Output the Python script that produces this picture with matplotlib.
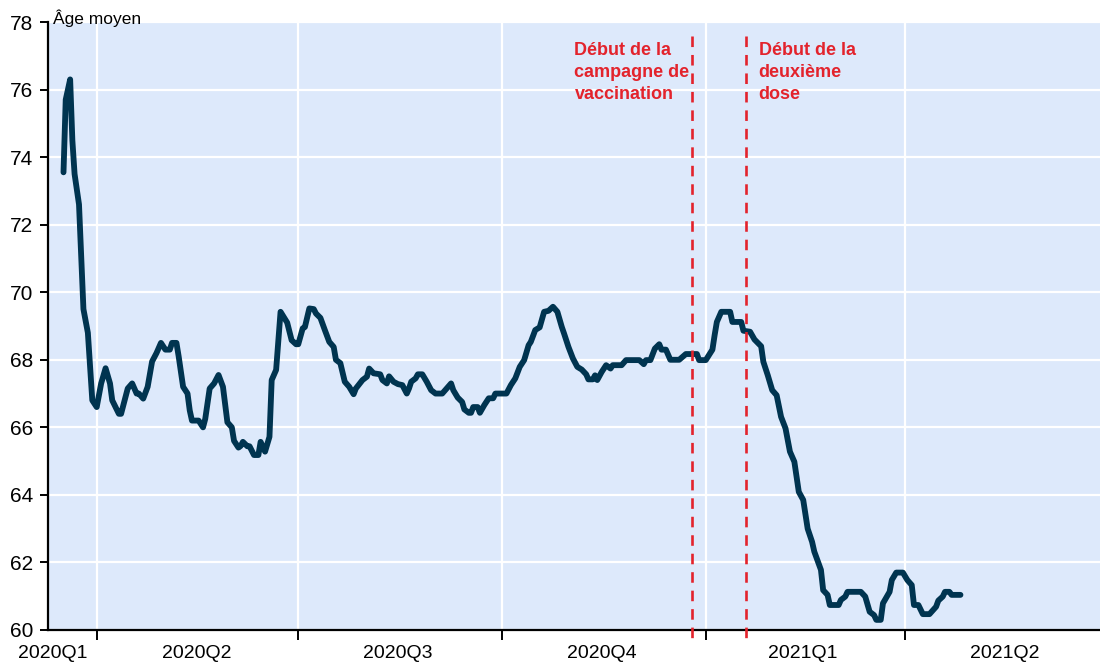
import matplotlib
matplotlib.use("Agg")
import matplotlib.pyplot as plt
import matplotlib.dates as mdates
import pandas as pd

# Âge moyen (moyenne mobile)
dates = [
    "2020-03-17", "2020-03-18", "2020-03-20", "2020-03-21", "2020-03-22", "2020-03-24",
    "2020-03-26", "2020-03-28", "2020-03-30", "2020-04-01", "2020-04-03", "2020-04-05",
    "2020-04-07", "2020-04-08", "2020-04-11", "2020-04-12", "2020-04-15", "2020-04-17",
    "2020-04-19", "2020-04-20", "2020-04-22", "2020-04-24", "2020-04-26", "2020-04-28",
    "2020-04-30", "2020-05-02", "2020-05-04", "2020-05-05", "2020-05-07", "2020-05-08",
    "2020-05-10", "2020-05-12", "2020-05-13", "2020-05-14", "2020-05-17", "2020-05-19",
    "2020-05-20", "2020-05-22", "2020-05-24", "2020-05-26", "2020-05-28", "2020-05-30",
    "2020-06-01", "2020-06-02", "2020-06-04", "2020-06-05", "2020-06-06", "2020-06-08",
    "2020-06-09", "2020-06-11", "2020-06-13", "2020-06-14", "2020-06-16", "2020-06-18",
    "2020-06-19", "2020-06-21", "2020-06-23", "2020-06-26", "2020-06-28", "2020-06-30",
    "2020-07-01", "2020-07-03", "2020-07-04", "2020-07-06", "2020-07-08", "2020-07-09",
    "2020-07-11", "2020-07-13", "2020-07-15", "2020-07-17", "2020-07-18", "2020-07-20",
    "2020-07-22", "2020-07-24", "2020-07-26", "2020-07-27", "2020-07-30", "2020-08-01",
    "2020-08-02", "2020-08-04", "2020-08-07", "2020-08-08", "2020-08-10", "2020-08-11",
    "2020-08-13", "2020-08-15", "2020-08-17", "2020-08-19", "2020-08-20", "2020-08-21",
    "2020-08-23", "2020-08-24", "2020-08-26", "2020-08-28", "2020-08-30", "2020-09-01",
    "2020-09-04", "2020-09-06", "2020-09-08", "2020-09-09", "2020-09-11", "2020-09-13",
    "2020-09-14", "2020-09-16", "2020-09-17", "2020-09-18", "2020-09-20", "2020-09-21",
    "2020-09-23", "2020-09-25", "2020-09-27", "2020-09-28", "2020-10-03", "2020-10-05",
    "2020-10-07", "2020-10-09", "2020-10-11", "2020-10-13", "2020-10-14", "2020-10-16",
    "2020-10-18", "2020-10-20", "2020-10-22", "2020-10-24", "2020-10-26", "2020-10-28",
    "2020-10-29", "2020-10-31", "2020-11-02", "2020-11-04", "2020-11-06", "2020-11-08",
    "2020-11-09", "2020-11-11", "2020-11-12", "2020-11-13", "2020-11-15", "2020-11-17",
    "2020-11-19", "2020-11-20", "2020-11-24", "2020-11-26", "2020-12-02", "2020-12-04",
    "2020-12-05", "2020-12-07", "2020-12-09", "2020-12-11", "2020-12-12", "2020-12-14",
    "2020-12-16", "2020-12-20", "2020-12-23", "2020-12-28", "2020-12-29", "2021-01-01",
    "2021-01-04", "2021-01-05", "2021-01-06", "2021-01-08", "2021-01-12", "2021-01-13",
    "2021-01-17", "2021-01-18", "2021-01-21", "2021-01-23", "2021-01-26", "2021-01-27",
    "2021-01-29", "2021-01-31", "2021-02-02", "2021-02-04", "2021-02-06", "2021-02-08",
    "2021-02-10", "2021-02-12", "2021-02-14", "2021-02-16", "2021-02-18", "2021-02-19",
    "2021-02-22", "2021-02-23", "2021-02-25", "2021-02-26", "2021-03-02", "2021-03-03",
    "2021-03-05", "2021-03-06", "2021-03-12", "2021-03-14", "2021-03-16", "2021-03-18",
    "2021-03-19", "2021-03-21", "2021-03-22", "2021-03-25", "2021-03-26", "2021-03-28",
    "2021-03-31", "2021-04-02", "2021-04-04", "2021-04-05", "2021-04-07", "2021-04-09",
    "2021-04-12", "2021-04-15", "2021-04-16", "2021-04-18", "2021-04-19", "2021-04-21",
    "2021-04-22", "2021-04-26",
]
age = [
    73.55, 75.7, 76.3, 74.5, 73.5, 72.6,
    69.5, 68.8, 66.8, 66.6, 67.3, 67.75,
    67.3, 66.8, 66.4, 66.4, 67.15, 67.3,
    67.0, 67.0, 66.85, 67.2, 67.95, 68.2,
    68.5, 68.3, 68.3, 68.5, 68.5, 68.1,
    67.2, 67.0, 66.5, 66.2, 66.2, 66.0,
    66.25, 67.15, 67.3, 67.55, 67.2, 66.15,
    66.0, 65.6, 65.4, 65.45, 65.57, 65.44,
    65.44, 65.18, 65.18, 65.57, 65.28, 65.72,
    67.4, 67.7, 69.42, 69.1, 68.58, 68.46,
    68.46, 68.93, 68.97, 69.52, 69.5, 69.37,
    69.24, 68.88, 68.53, 68.38, 68.0, 67.9,
    67.35, 67.2, 66.98, 67.15, 67.4, 67.5,
    67.74, 67.6, 67.57, 67.4, 67.3, 67.51,
    67.35, 67.28, 67.25, 67.0, 67.15, 67.35,
    67.45, 67.57, 67.57, 67.35, 67.1, 67.0,
    67.0, 67.15, 67.3, 67.1, 66.88, 66.75,
    66.53, 66.43, 66.43, 66.6, 66.6, 66.43,
    66.66, 66.86, 66.86, 67.0, 67.0, 67.25,
    67.45, 67.79, 67.99, 68.43, 68.53, 68.88,
    68.96, 69.42, 69.45, 69.57, 69.42, 68.97,
    68.78, 68.38, 68.04, 67.79, 67.71, 67.57,
    67.42, 67.42, 67.54, 67.4, 67.64, 67.84,
    67.74, 67.84, 67.84, 67.99, 67.99, 67.87,
    67.99, 67.99, 68.33, 68.46, 68.3, 68.3,
    68.0, 68.0, 68.17, 68.17, 67.99, 67.99,
    68.3, 68.73, 69.12, 69.42, 69.42, 69.12,
    69.12, 68.86, 68.83, 68.6, 68.4, 67.94,
    67.54, 67.1, 66.95, 66.31, 65.97, 65.28,
    64.98, 64.09, 63.85, 63.0, 62.61, 62.32,
    61.78, 61.18, 61.04, 60.74, 60.74, 60.89,
    60.99, 61.13, 61.13, 60.99, 60.54, 60.44,
    60.3, 60.3, 60.79, 61.13, 61.48, 61.7,
    61.7, 61.48, 61.33, 60.74, 60.74, 60.47,
    60.47, 60.69, 60.87, 60.99, 61.13, 61.13,
    61.04, 61.04,
]

quarter_starts = ["2020-04-01", "2020-07-01", "2020-10-01", "2021-01-01", "2021-04-01"]
quarter_label_pos = ["2020-03-12", "2020-05-16", "2020-08-15", "2020-11-15", "2021-02-14", "2021-05-16"]
quarter_labels = ["2020Q1", "2020Q2", "2020Q3", "2020Q4", "2021Q1", "2021Q2"]

event_dates = ["2020-12-26", "2021-01-19"]
event_labels = ["Début de la\ncampagne de\nvaccination", "Début de la\ndeuxième\ndose"]
event_text_dx = [-118, 13]  # pixels, position du texte par rapport à la ligne

line_color = "#003450"
red = "#e3232c"

plt.rcParams["font.family"] = ["Liberation Sans", "DejaVu Sans"]

fig = plt.figure(figsize=(11, 6.66), dpi=100)
ax = fig.add_axes([48 / 1100, 36 / 666, 1052 / 1100, 608 / 666])
ax.set_facecolor("#dde9fb")

x = pd.to_datetime(dates)
ax.plot(x, age, color=line_color, lw=4.2, solid_joinstyle="round", solid_capstyle="round", zorder=4)

for d, lab, dx in zip(event_dates, event_labels, event_text_dx):
    d = pd.Timestamp(d)
    ax.plot([d, d], [77.6, 59.55], color=red, lw=1.9, dashes=(4, 3), clip_on=False, zorder=5)
    ax.annotate(lab, xy=(d, 77.4), xytext=(dx, 0), textcoords="offset pixels",
                ha="left", va="top", color=red, fontsize=13, fontweight="bold",
                linespacing=1.36, zorder=6)

ax.set_xlim(pd.Timestamp("2020-03-10"), pd.Timestamp("2021-06-28"))
ax.set_ylim(60, 78)
ax.set_yticks(range(60, 79, 2))
ax.set_xticks(pd.to_datetime(quarter_starts))
ax.set_xticks(pd.to_datetime(quarter_label_pos), minor=True)
ax.set_xticklabels([])
ax.set_xticklabels(quarter_labels, minor=True)

ax.tick_params(axis="x", which="major", direction="out", length=7, width=1.4, color="black")
ax.tick_params(axis="x", which="minor", length=0, pad=11, labelsize=14)
ax.tick_params(axis="y", direction="out", length=5.5, width=1.4, pad=5, labelsize=15)

ax.grid(True, which="major", color="white", lw=1.6)
ax.set_axisbelow(True)

for s in ["top", "right"]:
    ax.spines[s].set_visible(False)
for s in ["left", "bottom"]:
    ax.spines[s].set_linewidth(1.6)
    ax.spines[s].set_zorder(3)

ax.text(0.005, 0.997, "Âge moyen", transform=ax.transAxes, ha="left", va="baseline", fontsize=12.5)

fig.savefig("out.png", dpi=100)
